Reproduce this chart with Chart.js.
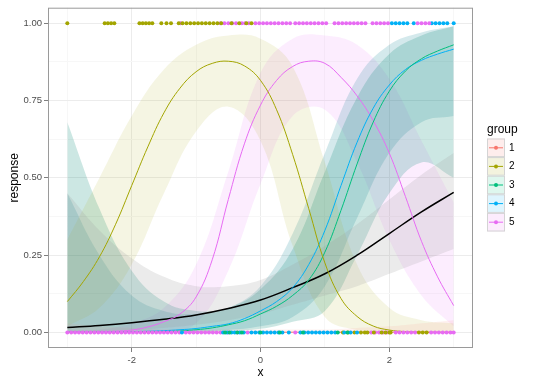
<!DOCTYPE html>
<html>
<head>
<meta charset="utf-8">
<script src="https://cdn.jsdelivr.net/npm/chart.js@4.4.0/dist/chart.umd.min.js"></script>
<style>
  html, body { margin: 0; padding: 0; background: #fff; }
</style>
</head>
<body>
<canvas id="chart" width="540" height="386"></canvas>
<script>
// groups and colours (ggplot default hues)
const groups = ["1", "2", "3", "4", "5"];
const groupColors = ["#F8766D", "#A3A500", "#00BF7D", "#00B0F6", "#E76BF3"];
const bandColors = ["rgba(248,118,109,0.10)", "rgba(163,165,0,0.11)", "rgba(0,135,115,0.2)",
  "rgba(0,125,140,0.17)", "rgba(231,107,243,0.12)"];

// tick labels
const xTickValues = [-2, 0, 2];
const xTickLabels = ["-2", "0", "2"];
const xMinorValues = [-3, -1, 1, 3];
const yTickValues = [0, 0.25, 0.5, 0.75, 1];
const yTickLabels = ["0.00", "0.25", "0.50", "0.75", "1.00"];
const yMinorValues = [0.125, 0.375, 0.625, 0.875];

// x grids the fitted curves were read on
const xFine = [-3, -2.75, -2.5, -2.25, -2, -1.75, -1.5, -1.25, -1, -0.75, -0.5, -0.25, 0,
  0.25, 0.5, 0.75, 1, 1.25, 1.5, 1.75, 2, 2.25, 2.5, 2.75, 3];
const xCoarse = [-3, -2.5, -2, -1.5, -1, -0.5, 0, 0.5, 1, 1.5, 2, 2.5, 3];

// fitted curves
const fit1 = [0.001, 0.001, 0.001, 0.001, 0.001, 0.001, 0.001, 0.001, 0.001, 0.001, 0.001, 0.001, 0.001];
const fit2 = [0.10, 0.165, 0.245, 0.35, 0.475, 0.60, 0.71, 0.79, 0.843, 0.87, 0.877, 0.862, 0.815,
  0.72, 0.575, 0.40, 0.225, 0.11, 0.052, 0.021, 0.008, 0.003, 0.0012, 0.0005, 0.0002];
const fit3 = [0.0005, 0.0006, 0.0008, 0.001, 0.0015, 0.002, 0.003, 0.005, 0.009, 0.015, 0.025, 0.038, 0.06,
  0.085, 0.12, 0.17, 0.26, 0.395, 0.545, 0.68, 0.78, 0.845, 0.885, 0.91, 0.93];
const fit4 = [0.001, 0.0013, 0.0017, 0.0023, 0.003, 0.004, 0.006, 0.009, 0.013, 0.02, 0.028, 0.045, 0.07,
  0.10, 0.145, 0.22, 0.33, 0.475, 0.615, 0.725, 0.80, 0.85, 0.88, 0.90, 0.916];
const fit5 = [0.0005, 0.001, 0.002, 0.004, 0.008, 0.018, 0.035, 0.06, 0.115, 0.235, 0.43, 0.61, 0.735,
  0.815, 0.86, 0.877, 0.87, 0.825, 0.765, 0.685, 0.58, 0.44, 0.295, 0.18, 0.087];
const fitAll = [0.016, 0.023, 0.032, 0.043, 0.057, 0.078, 0.105, 0.145, 0.19, 0.25, 0.32, 0.39, 0.453];

// confidence bands (on xCoarse)
const lo1 = [0, 0, 0, 0, 0, 0, 0, 0, 0, 0, 0, 0, 0];
const hi1 = [0.03, 0.02, 0.015, 0.01, 0.01, 0.01, 0.01, 0.01, 0.01, 0.015, 0.02, 0.03, 0.04];
const lo2 = [0.02, 0.08, 0.22, 0.45, 0.65, 0.73, 0.62, 0.28, 0.05, 0.008, 0.001, 0, 0];
const hi2 = [0.30, 0.50, 0.70, 0.85, 0.93, 0.96, 0.95, 0.86, 0.55, 0.22, 0.08, 0.04, 0.03];
const lo3 = [0, 0, 0, 0.001, 0.002, 0.005, 0.012, 0.035, 0.07, 0.25, 0.45, 0.55, 0.5];
const hi3 = [0.68, 0.40, 0.20, 0.10, 0.07, 0.08, 0.14, 0.27, 0.52, 0.76, 0.90, 0.96, 0.99];
const lo4 = [0, 0, 0, 0.001, 0.003, 0.008, 0.02, 0.05, 0.15, 0.37, 0.58, 0.68, 0.7];
const hi4 = [0.45, 0.25, 0.12, 0.07, 0.06, 0.08, 0.15, 0.32, 0.58, 0.82, 0.93, 0.97, 0.99];
const lo5 = [0, 0, 0.001, 0.005, 0.03, 0.2, 0.48, 0.7, 0.72, 0.55, 0.3, 0.12, 0.02];
const hi5 = [0.005, 0.01, 0.03, 0.08, 0.22, 0.52, 0.84, 0.95, 0.96, 0.93, 0.82, 0.62, 0.42];
const loAll = [0, 0.003, 0.008, 0.015, 0.025, 0.04, 0.06, 0.09, 0.12, 0.15, 0.19, 0.23, 0.27];
const hiAll = [0.45, 0.33, 0.24, 0.18, 0.15, 0.15, 0.17, 0.22, 0.28, 0.35, 0.43, 0.51, 0.58];

// observed responses: x positions of points at response 1 and 0
const top2 = [-3.0, -2.42, -2.37, -2.32, -2.27, -1.88, -1.83, -1.78, -1.73, -1.68, -1.54, -1.46, -1.39,
  -1.27, -1.21, -1.15, -1.09, -1.03, -0.97, -0.91, -0.85, -0.79, -0.73, -0.67, -0.61, -0.45, -0.33, -0.22, -0.14];
const top5 = [-1.24, -0.62, -0.56, -0.50, -0.44, -0.38, -0.29, -0.24, -0.18, -0.08, -0.02, 0.04, 0.10, 0.16,
  0.22, 0.28, 0.34, 0.40, 0.46, 0.54, 0.60, 0.66, 0.72, 0.78, 0.84, 0.90, 0.96, 1.02, 1.15, 1.21, 1.27,
  1.33, 1.39, 1.45, 1.51, 1.57, 1.63, 1.74, 1.80, 1.86, 1.92, 1.98, 2.44, 2.50, 2.56, 2.62];
const top4 = [2.04, 2.10, 2.16, 2.22, 2.28, 2.38, 2.66, 2.72, 2.78, 2.84, 2.90, 3.0];
const bottom5 = [-3.0, -2.94, -2.88, -2.82, -2.76, -2.70, -2.64, -2.58, -2.52, -2.46, -2.40, -2.34, -2.28,
  -2.22, -2.16, -2.10, -2.04, -1.98, -1.92, -1.86, -1.80, -1.74, -1.68, -1.62, -1.56, -1.50, -1.44, -1.38,
  -1.32, -1.26, -1.16, -1.10, -1.04, -0.98, -0.92, -0.86, -0.80, -0.74, -0.68, -0.62, -0.50, -0.36, -0.20,
  0.54, 1.72, 1.78, 1.84, 1.90, 1.96, 2.10, 2.16, 2.22, 2.28, 2.34, 2.40, 2.65, 2.71, 2.77, 2.83, 2.89, 2.95, 3.0];
const bottom4 = [-1.22, -0.58, -0.52, -0.45, -0.40, -0.32, -0.26, -0.14, -0.08, -0.02, 0.04, 0.10, 0.16,
  0.22, 0.28, 0.34, 0.44, 0.62, 0.68, 0.74, 0.80, 0.86, 0.92, 0.98, 1.04, 1.10, 1.16, 1.30, 1.40, 1.50];
const bottom3 = [-0.55, -0.48, -0.36, -0.29, 0.0, 0.3, 0.66, 1.2, 1.35];
const bottom2 = [1.28, 1.36, 1.46, 1.56, 1.62, 1.66, 1.76, 1.88, 1.94, 2.00, 2.02, 2.46, 2.52, 2.58];

const FONT = '"Liberation Sans", Arial, sans-serif';

function rgba(hex, a) {
  const n = parseInt(hex.slice(1), 16);
  return `rgba(${(n >> 16) & 255},${(n >> 8) & 255},${n & 255},${a})`;
}
const pts = (xs, ys) => xs.map((x, i) => ({ x: x, y: ys[i] }));
const row = (xs, y) => xs.map((x) => ({ x: x, y: y }));

const datasets = [];

function addBand(xs, lo, hi, color) {
  const idx = datasets.length;
  datasets.push({ data: pts(xs, lo), borderWidth: 0, pointRadius: 0, fill: false,
    tension: 0.4, order: 10 });
  datasets.push({ data: pts(xs, hi), borderWidth: 0, pointRadius: 0, fill: idx,
    backgroundColor: color, tension: 0.4, order: 10 });
}
function addCurve(xs, ys, color, width) {
  datasets.push({ data: pts(xs, ys), borderColor: color, borderWidth: width, pointRadius: 0,
    fill: false, tension: 0.4, order: 5 });
}
function addPoints(xs, y, color) {
  datasets.push({ data: row(xs, y), showLine: false, pointRadius: 2, pointBorderWidth: 0,
    pointBackgroundColor: color, order: 0 });
}

addBand(xCoarse, loAll, hiAll, "rgba(153,153,153,0.2)");
addBand(xCoarse, lo1, hi1, bandColors[0]);
addBand(xCoarse, lo2, hi2, bandColors[1]);
addBand(xCoarse, lo3, hi3, bandColors[2]);
addBand(xCoarse, lo4, hi4, bandColors[3]);
addBand(xCoarse, lo5, hi5, bandColors[4]);

addCurve(xCoarse, fit1, groupColors[0], 1);
addCurve(xFine, fit2, groupColors[1], 1);
addCurve(xFine, fit3, groupColors[2], 1);
addCurve(xFine, fit4, groupColors[3], 1);
addCurve(xFine, fit5, groupColors[4], 1);
addCurve(xCoarse, fitAll, "#000000", 1.5);

addPoints(bottom3, 0, groupColors[2]);
addPoints(bottom4, 0, groupColors[3]);
addPoints(bottom2, 0, groupColors[1]);
addPoints(bottom5, 0, groupColors[4]);
addPoints(top2, 1, groupColors[1]);
addPoints(top5, 1, groupColors[4]);
addPoints(top4, 1, groupColors[3]);

const ggFrame = {
  id: "ggFrame",
  afterDraw(chart) {
    const { ctx, chartArea: a } = chart;
    ctx.save();
    ctx.strokeStyle = "#9a9a9a";
    ctx.lineWidth = 1;
    ctx.strokeRect(a.left + 0.5, a.top + 0.5, a.right - a.left - 1, a.bottom - a.top - 1);

    // legend
    ctx.fillStyle = "#000";
    ctx.font = "12px " + FONT;
    ctx.textBaseline = "alphabetic";
    ctx.textAlign = "left";
    ctx.fillText("group", 487, 133);
    groups.forEach((g, i) => {
      const top = 138.5 + i * 18.6;
      const cy = top + 9.3;
      ctx.fillStyle = "#fff";
      ctx.fillRect(487, top, 18, 18.6);
      ctx.fillStyle = rgba(groupColors[i], 0.13);
      ctx.fillRect(487, top, 18, 18.6);
      ctx.strokeStyle = "#d4d4d4";
      ctx.strokeRect(487.5, top + 0.5, 17, 17.6);
      ctx.strokeStyle = groupColors[i];
      ctx.beginPath();
      ctx.moveTo(489, cy);
      ctx.lineTo(503, cy);
      ctx.stroke();
      ctx.fillStyle = groupColors[i];
      ctx.beginPath();
      ctx.arc(496, cy, 2, 0, Math.PI * 2);
      ctx.fill();
      ctx.fillStyle = "#000";
      ctx.font = "10px " + FONT;
      ctx.textBaseline = "middle";
      ctx.fillText(g, 509, cy);
    });
    ctx.restore();
  }
};

const isIn = (arr, v) => arr.some((t) => Math.abs(t - v) < 1e-9);

new Chart(document.getElementById("chart"), {
  type: "line",
  data: { datasets: datasets },
  plugins: [ggFrame],
  options: {
    responsive: false,
    animation: false,
    layout: { padding: { top: 6, right: 67, left: 0, bottom: 0 } },
    plugins: { legend: { display: false }, tooltip: { enabled: false } },
    scales: {
      x: {
        type: "linear", min: -3.3, max: 3.3,
        afterBuildTicks: (s) => {
          s.ticks = xMinorValues.concat(xTickValues).sort((a, b) => a - b).map((v) => ({ value: v }));
        },
        afterFit: (s) => { s.height = 38; },
        ticks: {
          autoSkip: false, maxRotation: 0, padding: 3, color: "#4d4d4d",
          font: { family: FONT, size: 9.5 },
          callback: (v) => { const i = xTickValues.indexOf(v); return i >= 0 ? xTickLabels[i] : ""; }
        },
        grid: {
          color: (c) => isIn(xTickValues, c.tick.value) ? "#ececec" : "#f7f7f7",
          tickColor: (c) => isIn(xTickValues, c.tick.value) ? "#7f7f7f" : "rgba(0,0,0,0)",
          tickLength: 4
        },
        border: { display: false },
        title: { display: true, text: "x", color: "#000", font: { family: FONT, size: 12 },
          padding: { top: 0, bottom: 6 } }
      },
      y: {
        type: "linear", min: -0.05, max: 1.05,
        afterBuildTicks: (s) => {
          s.ticks = yMinorValues.concat(yTickValues).sort((a, b) => a - b).map((v) => ({ value: v }));
        },
        afterFit: (s) => { s.width = 48; },
        ticks: {
          autoSkip: false, padding: 2, color: "#4d4d4d",
          font: { family: FONT, size: 9.5 },
          callback: (v) => { const i = yTickValues.findIndex((t) => Math.abs(t - v) < 1e-9); return i >= 0 ? yTickLabels[i] : ""; }
        },
        grid: {
          color: (c) => isIn(yTickValues, c.tick.value) ? "#ececec" : "#f7f7f7",
          tickColor: (c) => isIn(yTickValues, c.tick.value) ? "#7f7f7f" : "rgba(0,0,0,0)",
          tickLength: 4
        },
        border: { display: false },
        title: { display: true, text: "response", color: "#000", font: { family: FONT, size: 12 },
          padding: { top: 7, bottom: 0 } }
      }
    }
  }
});
</script>
</body>
</html>
